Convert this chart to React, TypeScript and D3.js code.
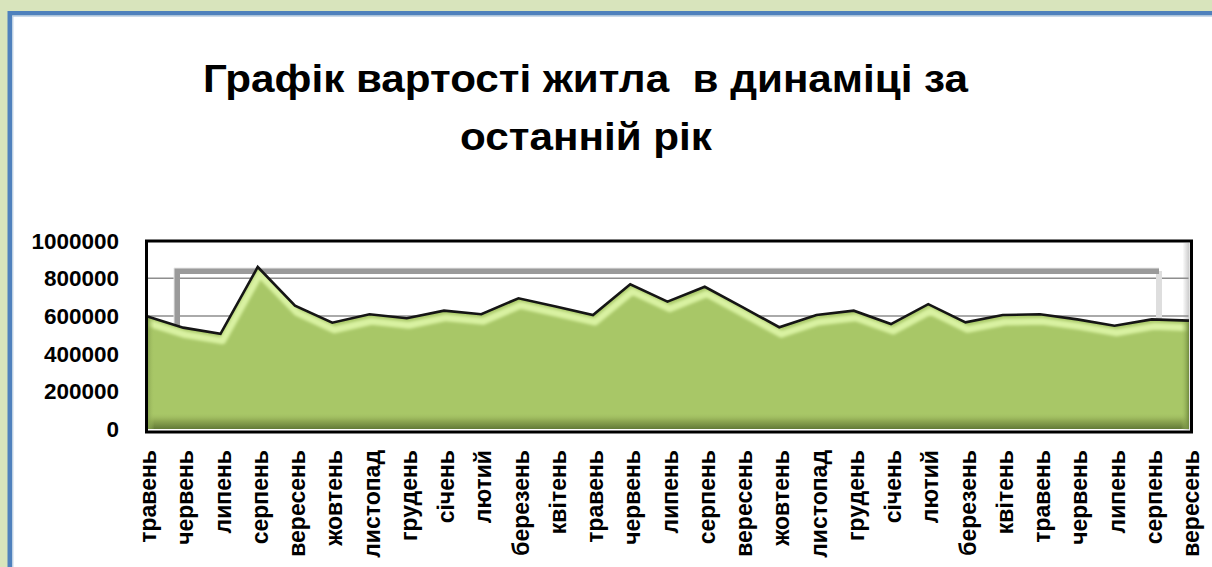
import React, { useEffect } from "react";
import * as d3 from "d3";

const months = [
  "травень", "червень", "липень", "серпень", "вересень", "жовтень", "листопад", "грудень",
  "січень", "лютий", "березень", "квітень", "травень", "червень", "липень", "серпень",
  "вересень", "жовтень", "листопад", "грудень", "січень", "лютий", "березень", "квітень",
  "травень", "червень", "липень", "серпень", "вересень",
];
const prices = [
  600000, 538000, 505000, 860000, 655000, 564000, 609000, 588000,
  628000, 609000, 694000, 650000, 605000, 768000, 676000, 755000,
  648000, 540000, 605000, 628000, 557000, 663000, 566000, 605000,
  609000, 582000, 548000, 582000, 575000,
];
const yTicks = [0, 200000, 400000, 600000, 800000, 1000000];
const titleLines = ["Графік вартості житла  в динаміці за", "останній рік"];

const W = 1212;
const H = 567;
const FONT = "'Liberation Sans', Arial, sans-serif";

export default function App() {
  useEffect(() => {
    document.body.style.margin = "0";
    document.body.style.overflow = "hidden";
  }, []);

  const idx = months.map((_, i) => String(i));
  const x = d3.scalePoint<string>().domain(idx).range([146, 1189]);
  const y = d3.scaleLinear().domain([0, 1000000]).range([429, 240.6]);

  const pts: [number, number][] = prices.map((v, i) => [x(String(i)) as number, y(v)]);
  const area = d3.area<[number, number]>().x((d) => d[0]).y0(y(0)).y1((d) => d[1])(pts) || "";
  const line = d3.line<[number, number]>().x((d) => d[0]).y((d) => d[1])(pts) || "";

  const fx0 = 146.5, fy0 = 241, fx1 = 1191.5, fy1 = 432;

  return (
    <svg width={W} height={H} style={{ position: "absolute", left: 0, top: 0, display: "block" }}
      xmlns="http://www.w3.org/2000/svg">
      <defs>
        <clipPath id="areaClip"><path d={area} /></clipPath>
        <filter id="blur2"><feGaussianBlur stdDeviation="1.6" /></filter>
        <linearGradient id="bottomShade" x1="0" y1="0" x2="0" y2="1">
          <stop offset="0" stopColor="#a6c466" stopOpacity="0" />
          <stop offset="0.45" stopColor="#8fa953" />
          <stop offset="1" stopColor="#5d7433" />
        </linearGradient>
        <linearGradient id="leftShade" x1="0" y1="0" x2="1" y2="0">
          <stop offset="0" stopColor="#7f9a48" />
          <stop offset="1" stopColor="#a8c668" stopOpacity="0" />
        </linearGradient>
        <linearGradient id="rightShade" x1="0" y1="0" x2="1" y2="0">
          <stop offset="0" stopColor="#a8c668" stopOpacity="0" />
          <stop offset="1" stopColor="#6f8a3c" />
        </linearGradient>
        <linearGradient id="sideWall" x1="0" y1="0" x2="1" y2="0">
          <stop offset="0" stopColor="#ffffff" />
          <stop offset="1" stopColor="#c8c8c8" />
        </linearGradient>
      </defs>

      {/* outer background and border */}
      <rect x={0} y={0} width={W} height={H} fill="#d8e4bc" />
      <rect x={12.5} y={15.5} width={W + 20} height={H + 20} fill="#ffffff" />
      <path d={`M9.8,${H + 10} V13.2 H${W + 10}`} fill="none" stroke="#4f81bd" strokeWidth={4.6} />
      <path d={`M12.8,${H + 10} V16.2 H${W + 10}`} fill="none" stroke="#b9cde5" strokeWidth={1.2} />

      {/* title */}
      <text x={585.5} y={92} textAnchor="middle" fontFamily={FONT} fontWeight="bold" fontSize={38}
        textLength={765} lengthAdjust="spacingAndGlyphs" fill="#000"
        style={{ whiteSpace: "pre" }}>{titleLines[0]}</text>
      <text x={586} y={150} textAnchor="middle" fontFamily={FONT} fontWeight="bold" fontSize={38}
        textLength={252} lengthAdjust="spacingAndGlyphs" fill="#000">{titleLines[1]}</text>

      {/* plot background */}
      <rect x={fx0} y={fy0} width={fx1 - fx0} height={fy1 - fy0} fill="#ffffff" />
      <rect x={fx1 - 9} y={fy0 + 2} width={7} height={fy1 - fy0 - 4} fill="url(#sideWall)" />

      {/* gridlines */}
      {yTicks.filter((t) => t > 0 && t < 1000000).map((t) => (
        <line key={t} x1={fx0} x2={fx1 - 3} y1={y(t)} y2={y(t)} stroke="#8e8e8e" strokeWidth={1.6} />
      ))}

      {/* 3D back wall edge */}
      <path d={`M1159,330 V271`} fill="none" stroke="#dedede" strokeWidth={6} />
      <path d={`M177,330 V271 H1159`} fill="none" stroke="#9a9a9a" strokeWidth={6} />
      <path d={`M174,330 V268 H1159`} fill="none" stroke="#e8e8e8" strokeWidth={1} />

      {/* area */}
      <path d={area} fill="#a8c767" />
      <g clipPath="url(#areaClip)">
        <path d={line} transform="translate(2,7)" fill="none" stroke="#d9f2a2" strokeWidth={7}
          strokeLinejoin="round" filter="url(#blur2)" />
        <rect x={fx0} y={y(0) - 16} width={fx1 - fx0} height={17} fill="url(#bottomShade)" />
        <rect x={fx0} y={fy0} width={8} height={fy1 - fy0} fill="url(#leftShade)" />
        <rect x={(x(String(prices.length - 1)) as number) - 8} y={fy0} width={8} height={fy1 - fy0}
          fill="url(#rightShade)" />
      </g>
      <path d={line} fill="none" stroke="#151515" strokeWidth={2.6} strokeLinejoin="miter" />

      {/* frame */}
      <rect x={fx0} y={fy0} width={fx1 - fx0} height={fy1 - fy0} fill="none" stroke="#000" strokeWidth={3} />

      {/* y axis labels */}
      {yTicks.map((t) => (
        <text key={t} x={119} y={y(t)} dy="0.36em" textAnchor="end" fontFamily={FONT}
          fontWeight="bold" fontSize={22.5} fill="#000">{t}</text>
      ))}

      {/* x axis labels */}
      {months.map((m, i) => {
        const px = (x(String(i)) as number) + 10;
        return (
          <text key={i} transform={`translate(${px},450) rotate(-90)`} textAnchor="end"
            fontFamily={FONT} fontWeight="bold" fontSize={23} fill="#000">{m}</text>
        );
      })}
    </svg>
  );
}
